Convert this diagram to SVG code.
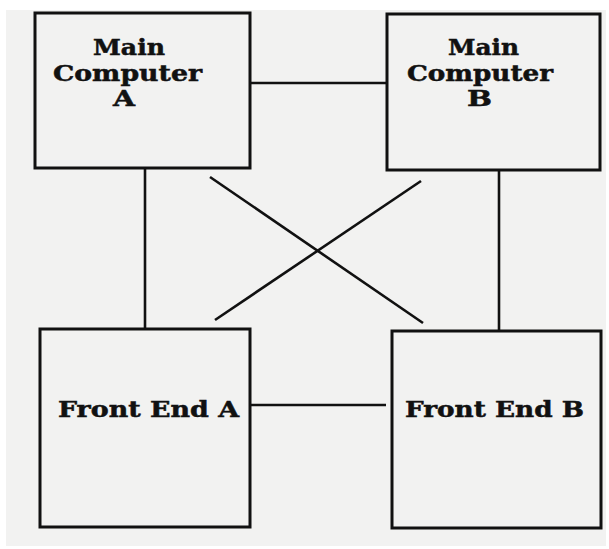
<svg xmlns="http://www.w3.org/2000/svg" width="609" height="549" viewBox="0 0 609 549">
<style>
.box{fill:#f2f2f1;stroke:#111;stroke-width:3}
.ln{stroke:#111;stroke-width:2.6;fill:none}
.t{font-family:"DejaVu Serif","Liberation Serif",serif;font-weight:bold;font-size:21.5px;fill:#111;stroke:#111;stroke-width:0.5}
</style>
<rect x="0" y="0" width="609" height="549" fill="#ffffff"/>
<rect x="6" y="10" width="600" height="536" fill="#f2f2f1"/>
<g id="connectors">
<line class="ln" x1="250" y1="83" x2="387" y2="83"/>
<line class="ln" x1="145" y1="169" x2="145" y2="329"/>
<line class="ln" x1="499" y1="170" x2="499" y2="331"/>
<line class="ln" x1="250" y1="405" x2="386" y2="405"/>
<line class="ln" x1="210" y1="177" x2="423" y2="323"/>
<line class="ln" x1="421" y1="181" x2="215" y2="320"/>
</g>
<g id="main-computer-a">
<rect class="box" x="35" y="13" width="215" height="155"/>
<text class="t" x="93" y="55" textLength="72" lengthAdjust="spacingAndGlyphs">Main</text>
<text class="t" x="53" y="81" textLength="149" lengthAdjust="spacingAndGlyphs">Computer</text>
<text class="t" x="113" y="106" textLength="22" lengthAdjust="spacingAndGlyphs">A</text>
</g>
<g id="main-computer-b">
<rect class="box" x="387" y="14" width="213" height="156"/>
<text class="t" x="448" y="55" textLength="71" lengthAdjust="spacingAndGlyphs">Main</text>
<text class="t" x="407" y="81" textLength="146" lengthAdjust="spacingAndGlyphs">Computer</text>
<text class="t" x="467" y="106" textLength="25" lengthAdjust="spacingAndGlyphs">B</text>
</g>
<g id="front-end-a">
<rect class="box" x="40" y="329" width="210" height="198"/>
<text class="t" x="58" y="417" textLength="181" lengthAdjust="spacingAndGlyphs">Front End A</text>
</g>
<g id="front-end-b">
<rect class="box" x="392" y="331" width="209" height="197"/>
<text class="t" x="405" y="417" textLength="179" lengthAdjust="spacingAndGlyphs">Front End B</text>
</g>
</svg>
